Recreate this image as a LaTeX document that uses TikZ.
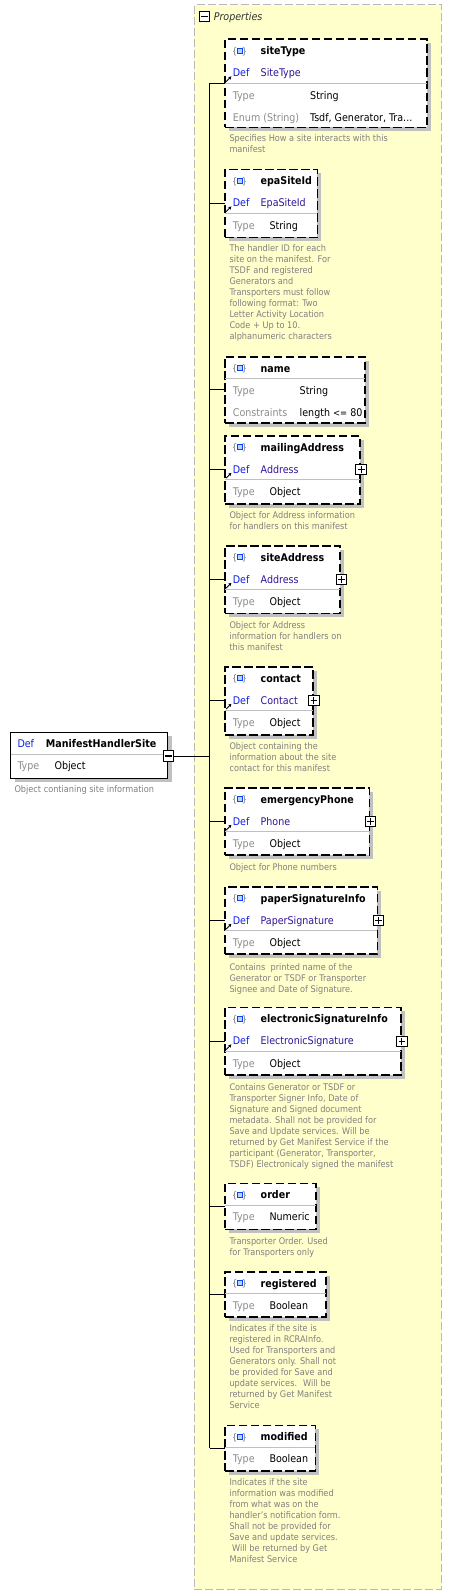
\documentclass[tikz,border=0pt]{standalone}
\usepackage{fontspec}
\setmainfont{DejaVu Sans Condensed}
\usetikzlibrary{shadows,arrows.meta}
\definecolor{propbg}{RGB}{255,255,204}
\definecolor{propbd}{RGB}{185,185,185}
\definecolor{shd}{RGB}{192,192,192}
\definecolor{defc}{RGB}{16,32,230}
\definecolor{valc}{RGB}{50,20,150}
\definecolor{lblc}{RGB}{140,140,140}
\definecolor{descc}{RGB}{128,128,128}
\definecolor{sepc}{RGB}{192,192,192}
\definecolor{bracec}{RGB}{110,110,125}
\definecolor{iconb}{RGB}{0,70,255}
\definecolor{iconf}{RGB}{190,210,255}
\newcommand\fsBox{\fontsize{10.6}{13}\selectfont}
\newcommand\fsDesc{\fontsize{9.1}{11}\selectfont}
\tikzset{
  elbox/.style={anchor=north west, inner sep=0pt, outer sep=0pt, draw=black, line width=1.6pt,
    dash pattern=on 8.5pt off 3.5pt, fill=white,
    drop shadow={shadow xshift=4pt, shadow yshift=-4pt, fill=shd, opacity=1}},
  mainbx/.style={anchor=north west, inner sep=0pt, outer sep=0pt, draw=black, line width=1pt, fill=white,
    drop shadow={shadow xshift=4pt, shadow yshift=-4pt, fill=shd, opacity=1}},
  conn/.style={draw=black, line width=1pt},
  sepl/.style={draw=sepc, line width=1pt},
  pmbox/.style={draw=black, fill=white, line width=1pt, minimum size=10.5pt, inner sep=0pt, outer sep=0pt},
  pmline/.style={draw=black, line width=1.1pt},
  refarr/.style={draw=black, line width=0.9pt, -{Stealth[length=3.2pt,width=3.4pt]}},
  ttl/.style={anchor=base west, inner sep=0pt, font=\fsBox\bfseries, text=black},
  dtx/.style={anchor=base west, inner sep=0pt, font=\fsBox, text=defc},
  dvx/.style={anchor=base west, inner sep=0pt, font=\fsBox, text=valc},
  ltx/.style={anchor=base west, inner sep=0pt, font=\fsBox, text=lblc},
  vtx/.style={anchor=base west, inner sep=0pt, font=\fsBox, text=black},
  dsx/.style={anchor=base west, inner sep=0pt, font=\fsDesc, text=descc},
  brc/.style={inner sep=0pt, font=\fontsize{9}{10}\selectfont, text=bracec},
  icsq/.style={draw=iconb, fill=iconf, line width=0.9pt, minimum size=5pt, inner sep=0pt},
}
% box frame + connector
\newcommand\BX[4]{%
  \node[elbox, minimum width={#3-225}, minimum height=#4] (#1) at (225,#2) {};
  \draw[conn] (tx |- #1.west) -- (#1.west);}
% title row
\newcommand\TT[3]{%
  \node[brc, anchor=base west] (#1-lb) at (231.8,{#2+15.1}) {\{};
  \node[icsq] (#1-ic) at (239.5,{#2+11.2}) {};
  \node[brc, anchor=base east] (#1-rb) at (247.2,{#2+15.1}) {\}};
  \node[ttl] (#1-t) at (260.5,{#2+15.6}) {#3};}
% def row
\newcommand\DF[3]{%
  \draw[refarr] (226.2,{#2+42.3}) -- (231.4,{#2+37.1});
  \node[dtx] (#1-d) at (232.7,{#2+37.6}) {Def};
  \node[dvx] (#1-dv) at (260.5,{#2+37.6}) {#3};}
% plus box
\newcommand\PL[3]{%
  \node[pmbox] (#1-pl) at (#2,#3) {};
  \draw[pmline] ([xshift=-3.4pt]#1-pl.center) -- ([xshift=3.4pt]#1-pl.center);
  \draw[pmline] ([yshift=-3.4pt]#1-pl.center) -- ([yshift=3.4pt]#1-pl.center);}
% separator
\newcommand\SP[2]{\draw[sepl] (225,#1) -- (#2,#1);}
% label/value row
\newcommand\RW[5]{%
  \node[ltx] (#1-l) at (232.7,{#2+3.9}) {#3};
  \node[vtx] (#1-v) at (#4,{#2+3.9}) {#5};}
% description
\newcommand\DS[3]{%
  \foreach \tl [count=\i from 0] in {#3} {\node[dsx] (#1-ds\i) at (229.3,{#2+3.3+11*\i}) {\tl};}}
\begin{document}
\begin{tikzpicture}[x=1pt,y=-1pt]
\useasboundingbox (0,0) rectangle (452,1595);
\fill[white] (0,0) rectangle (452,1595);
% Properties container
\node[anchor=north west, inner sep=0pt, outer sep=0pt, fill=propbg, draw=propbd, line width=1pt,
  dash pattern=on 8pt off 3pt, minimum width=247.2, minimum height=1584] (props) at (194.3,5) {};
\node[pmbox] (props-mn) at (204.7,16.7) {};
\draw[pmline] ([xshift=-3.4pt]props-mn.center) -- ([xshift=3.4pt]props-mn.center);
\node[anchor=base west, inner sep=0pt, font=\fsBox\itshape, text=black!80] (props-t) at (213.6,20.4) {Properties};
\coordinate (tx) at (209.5,0);

% 1 siteType
\BX{siteType}{39.3}{426.7}{88}
\TT{siteType}{39.3}{siteType}
\DF{siteType}{39.3}{SiteType}
\SP{83.3}{426.7}
\RW{siteTypeT}{95.7}{Type}{310}{String}
\RW{siteTypeE}{117.3}{Enum (String)}{310}{Tsdf, Generator, Tra...}
\DS{siteType}{138.3}{{Specifies How a site interacts with this},{manifest}}

% 2 epaSiteId
\BX{epaSiteId}{169.3}{317.3}{68}
\TT{epaSiteId}{169.3}{epaSiteId}
\DF{epaSiteId}{169.3}{EpaSiteId}
\SP{213.3}{317.3}
\RW{epaSiteIdT}{225.3}{Type}{269.3}{String}
\DS{epaSiteId}{248.3}{{The handler ID for each},{site on the manifest. For},{TSDF and registered},{Generators and},{Transporters must follow},{following format: Two},{Letter Activity Location},{Code + Up to 10.},{alphanumeric characters}}

% 3 name
\BX{name}{356.7}{364.7}{66}
\TT{name}{356.7}{name}
\SP{378.3}{364.7}
\RW{nameT}{390.3}{Type}{299.5}{String}
\node[ltx] (nameC-l) at (232.7,416.2) {Constraints};
\node[vtx] (nameC-v) at (299.5,416.2) {length {\fontsize{9.4}{11}\selectfont<=} 80};

% 4 mailingAddress
\BX{mailingAddress}{435.7}{360}{68.3}
\TT{mailingAddress}{435.7}{mailingAddress}
\DF{mailingAddress}{435.7}{Address}
\PL{mailingAddress}{361.2}{469.7}
\SP{479.7}{360}
\RW{mailingAddressT}{491.7}{Type}{269.3}{Object}
\DS{mailingAddress}{514.7}{{Object for Address information},{for handlers on this manifest}}

% 5 siteAddress
\BX{siteAddress}{545.7}{340}{67.6}
\TT{siteAddress}{545.7}{siteAddress}
\DF{siteAddress}{545.7}{Address}
\PL{siteAddress}{341.6}{579.7}
\SP{589.7}{340}
\RW{siteAddressT}{601.7}{Type}{269.3}{Object}
\DS{siteAddress}{624.7}{{Object for Address},{information for handlers on},{this manifest}}

% 6 contact
\BX{contact}{666.7}{312.7}{68.3}
\TT{contact}{666.7}{contact}
\DF{contact}{666.7}{Contact}
\PL{contact}{313.9}{700.7}
\SP{710.7}{312.7}
\RW{contactT}{722.7}{Type}{269.3}{Object}
\DS{contact}{745.7}{{Object containing the},{information about the site},{contact for this manifest}}

% 7 emergencyPhone
\BX{emergencyPhone}{787.7}{369.3}{67.3}
\TT{emergencyPhone}{787.7}{emergencyPhone}
\DF{emergencyPhone}{787.7}{Phone}
\PL{emergencyPhone}{370.5}{821.7}
\SP{831.7}{369.3}
\RW{emergencyPhoneT}{843.7}{Type}{269.3}{Object}
\DS{emergencyPhone}{866.7}{{Object for Phone numbers}}

% 8 paperSignatureInfo
\BX{paperSignatureInfo}{886.7}{377.3}{67.3}
\TT{paperSignatureInfo}{886.7}{paperSignatureInfo}
\DF{paperSignatureInfo}{886.7}{PaperSignature}
\PL{paperSignatureInfo}{378.5}{920.7}
\SP{930.7}{377.3}
\RW{paperSignatureInfoT}{942.7}{Type}{269.3}{Object}
\DS{paperSignatureInfo}{966.7}{{Contains~ printed name of the},{Generator or TSDF or Transporter},{Signee and Date of Signature.}}

% 9 electronicSignatureInfo
\BX{electronicSignatureInfo}{1007.3}{400.7}{67.7}
\TT{electronicSignatureInfo}{1007.3}{electronicSignatureInfo}
\DF{electronicSignatureInfo}{1007.3}{ElectronicSignature}
\PL{electronicSignatureInfo}{401.9}{1041.3}
\SP{1051.3}{400.7}
\RW{electronicSignatureInfoT}{1063.3}{Type}{269.3}{Object}
\DS{electronicSignatureInfo}{1086.7}{{Contains Generator or TSDF or},{Transporter Signer Info, Date of},{Signature and Signed document},{metadata. Shall not be provided for},{Save and Update services. Will be},{returned by Get Manifest Service if the},{participant (Generator, Transporter,},{TSDF) Electronicaly signed the manifest}}

% 10 order
\BX{order}{1183.3}{315.7}{46}
\TT{order}{1183.3}{order}
\SP{1205}{315.7}
\RW{orderT}{1217}{Type}{269.3}{Numeric}
\DS{order}{1240.7}{{Transporter Order. Used},{for Transporters only}}

% 11 registered
\BX{registered}{1271.7}{325.7}{45}
\TT{registered}{1271.7}{registered}
\SP{1293.4}{325.7}
\RW{registeredT}{1305.4}{Type}{269.3}{Boolean}
\DS{registered}{1328.3}{{Indicates if the site is},{registered in RCRAInfo.},{Used for Transporters and},{Generators only. Shall not},{be provided for Save and},{update services.~ Will be},{returned by Get Manifest},{Service}}

% 12 modified
\BX{modified}{1425.3}{315.3}{45.7}
\TT{modified}{1425.3}{modified}
\SP{1447}{315.3}
\RW{modifiedT}{1459}{Type}{269.3}{Boolean}
\DS{modified}{1482.3}{{Indicates if the site},{information was modified},{from what was on the},{handler's notification form.},{Shall not be provided for},{Save and update services.},{~Will be returned by Get},{Manifest Service}}

% trunk
\draw[conn] (tx |- siteType.west) -- (tx |- modified.west);

% main node
\node[mainbx, minimum width=157, minimum height=46] (mhs) at (10.7,732.3) {};
\draw[sepl] (10.7,754.3) -- (167.7,754.3);
\node[dtx] (mhs-d) at (17.3,747.6) {Def};
\node[ttl] (mhs-t) at (45.7,747.6) {ManifestHandlerSite};
\node[ltx] (mhs-l) at (17.3,769.9) {Type};
\node[vtx] (mhs-v) at (54.3,769.9) {Object};
\node[dsx] (mhs-ds) at (14.3,792.6) {Object contianing site information};
\node[pmbox] (mhs-mn) at (168.7,756) {};
\draw[pmline] ([xshift=-3.4pt]mhs-mn.center) -- ([xshift=3.4pt]mhs-mn.center);
\draw[conn] (mhs-mn.east) -- (tx |- mhs-mn.east);
\end{tikzpicture}
\end{document}
